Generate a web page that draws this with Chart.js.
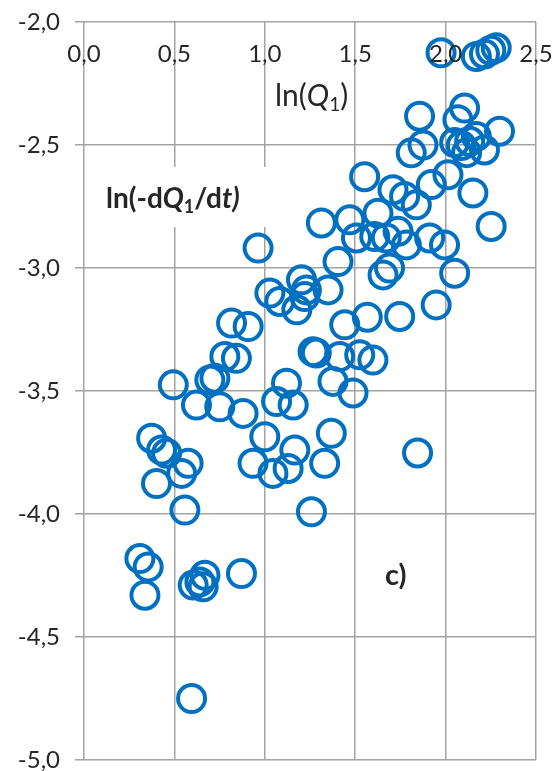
<!DOCTYPE html>
<html>
<head>
<meta charset="utf-8">
<script src="https://cdn.jsdelivr.net/npm/chart.js@4/dist/chart.umd.min.js"></script>
<style>
  html, body { margin: 0; padding: 0; background: #ffffff; }
  #wrap { width: 558px; height: 771px; position: relative; }
</style>
</head>
<body>
<div id="wrap"><canvas id="c" width="558" height="771"></canvas></div>
<script>
// ln(Q1) values for each observation
const lnQ1 = [
  1.975, 2.17, 2.215, 2.25, 2.28,
  1.856, 2.105, 2.068, 2.298, 2.17, 1.875, 1.81, 2.05, 2.087, 2.133, 2.215, 2.116,
  1.921, 2.013, 2.151, 2.252, 1.709, 1.773, 1.838, 1.552, 1.626, 1.737, 1.672, 1.608,
  1.783, 1.912, 1.994, 2.05, 1.69, 1.654, 1.948, 1.746, 1.567, 1.845,
  0.963, 1.313, 1.47, 1.507, 1.405, 1.203, 1.028, 1.23, 1.35, 1.083, 1.221, 1.442, 1.177,
  0.816, 0.908, 0.779, 0.843, 0.696, 0.724, 0.494, 0.622, 0.751, 0.88,
  1.12, 1.065, 1.157, 1.267, 1.285, 1.414, 1.525, 1.598, 1.377, 1.488,
  1.0, 0.935, 1.045, 1.166, 1.129, 1.368, 1.331, 1.258,
  0.374, 0.429, 0.457, 0.576, 0.54, 0.401, 0.558,
  0.309, 0.355, 0.337, 0.604, 0.641, 0.669, 0.659, 0.871, 0.595
];
// matching ln(-dQ1/dt) values
const lnRate = [
  -2.125, -2.14, -2.13, -2.115, -2.105,
  -2.383, -2.35, -2.397, -2.444, -2.465, -2.5, -2.532, -2.49, -2.502, -2.485, -2.52, -2.531,
  -2.661, -2.621, -2.695, -2.831, -2.682, -2.709, -2.743, -2.629, -2.777, -2.851, -2.878, -2.872,
  -2.906, -2.878, -2.906, -3.021, -3.0, -3.028, -3.15, -3.197, -3.2, -3.752,
  -2.919, -2.817, -2.804, -2.878, -2.974, -3.048, -3.102, -3.089, -3.089, -3.136, -3.116, -3.231, -3.17,
  -3.224, -3.238, -3.36, -3.367, -3.455, -3.448, -3.475, -3.557, -3.564, -3.591,
  -3.468, -3.543, -3.557, -3.34, -3.346, -3.36, -3.353, -3.374, -3.461, -3.508,
  -3.686, -3.794, -3.835, -3.74, -3.815, -3.672, -3.794, -3.991,
  -3.692, -3.74, -3.753, -3.794, -3.835, -3.876, -3.984,
  -4.181, -4.215, -4.33, -4.289, -4.276, -4.249, -4.296, -4.242, -4.75
];
// axis ranges and tick spacing
const xRange = [0, 2.5];
const yRange = [-5, -2];
const tickStep = 0.5;

const points = lnQ1.map((x, i) => ({ x: x, y: lnRate[i] }));

const FONT = 'Lato, "Open Sans", sans-serif';
const TEXT = '#262626';
const GRID = '#a3a3a3';
const fmt = v => Number(v).toFixed(1).replace('.', ',');

// draws a sequence of styled text runs starting at (x, y) on a baseline
function drawRuns(ctx, x, y, runs) {
  let cx = x;
  runs.forEach(r => {
    ctx.font = r.font;
    ctx.fillText(r.t, cx, y + (r.dy || 0));
    cx += ctx.measureText(r.t).width;
  });
}

const annotations = {
  id: 'annotations',
  afterDatasetsDraw(chart) {
    const ctx = chart.ctx;
    const xs = chart.scales.x;
    ctx.save();
    // tick labels of the horizontal axis, drawn just under its top edge
    ctx.fillStyle = TEXT;
    ctx.font = '24px ' + FONT;
    ctx.textAlign = 'center';
    ctx.textBaseline = 'middle';
    xs.ticks.forEach(t => {
      ctx.fillText(fmt(t.value), xs.getPixelForValue(t.value), 54);
    });

    ctx.textAlign = 'left';
    ctx.textBaseline = 'alphabetic';
    // horizontal axis title
    drawRuns(ctx, 275, 106, [
      { t: 'ln(', font: '30px ' + FONT },
      { t: 'Q', font: 'italic 30px ' + FONT },
      { t: '1', font: '19px ' + FONT, dy: 5 },
      { t: ')', font: '30px ' + FONT }
    ]);
    // vertical axis title on a white box
    ctx.fillStyle = '#ffffff';
    ctx.fillRect(96, 167, 178, 60);
    ctx.fillStyle = TEXT;
    drawRuns(ctx, 106, 208, [
      { t: 'ln(-d', font: 'bold 28px ' + FONT },
      { t: 'Q', font: 'italic bold 28px ' + FONT },
      { t: '1', font: 'bold 18px ' + FONT, dy: 5 },
      { t: '/d', font: 'bold 28px ' + FONT },
      { t: 't)', font: 'italic bold 28px ' + FONT }
    ]);
    // panel tag
    ctx.font = 'bold 29px ' + FONT;
    ctx.fillText('c)', 385, 585);
    ctx.restore();
  }
};

new Chart(document.getElementById('c'), {
  type: 'scatter',
  data: {
    datasets: [{
      data: points,
      pointStyle: 'circle',
      pointRadius: 13.5,
      pointHoverRadius: 13.5,
      borderWidth: 4,
      pointBorderWidth: 4,
      borderColor: 'rgb(0,112,192)',
      pointBorderColor: 'rgb(0,112,192)',
      backgroundColor: 'rgba(0,0,0,0)',
      pointBackgroundColor: 'rgba(0,0,0,0)',
      clip: false
    }]
  },
  options: {
    responsive: false,
    animation: false,
    devicePixelRatio: 1,
    layout: { autoPadding: false, padding: { top: 22, right: 22, left: 0, bottom: 0 } },
    plugins: { legend: { display: false }, tooltip: { enabled: false } },
    events: [],
    scales: {
      x: {
        type: 'linear',
        position: 'bottom',
        min: xRange[0],
        max: xRange[1],
        ticks: { stepSize: tickStep, display: false },
        grid: { color: GRID, lineWidth: 1.5, drawTicks: false },
        border: { display: false },
        afterFit: s => { s.height = 11; s.paddingLeft = 0; s.paddingRight = 0; }
      },
      y: {
        type: 'linear',
        min: yRange[0],
        max: yRange[1],
        ticks: {
          stepSize: tickStep,
          callback: v => fmt(v),
          font: { family: FONT, size: 24 },
          color: TEXT,
          padding: 15
        },
        grid: { color: GRID, lineWidth: 1.5, tickLength: 9 },
        border: { display: false },
        afterFit: s => { s.width = 84; s.paddingTop = 0; s.paddingBottom = 0; }
      }
    }
  },
  plugins: [annotations]
});
</script>
</body>
</html>
